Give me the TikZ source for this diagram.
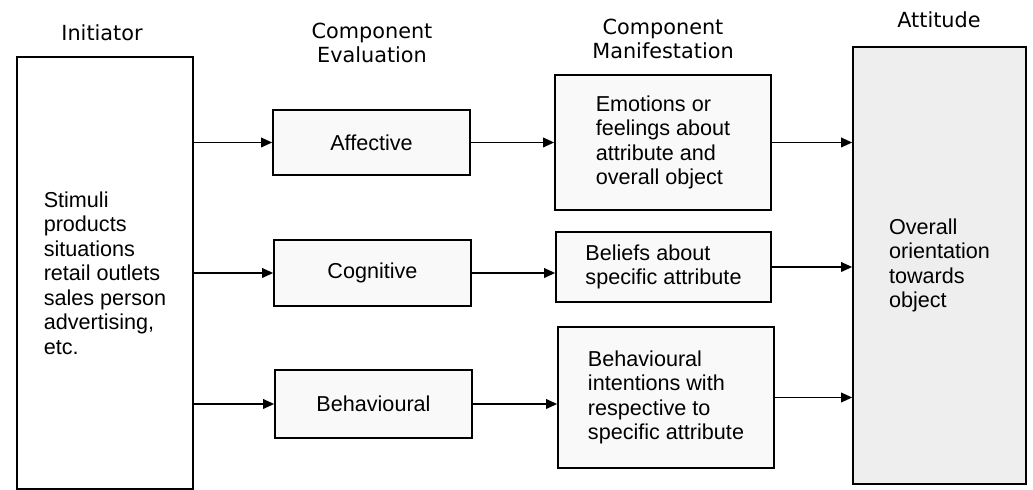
\documentclass[tikz,border=0pt]{standalone}
\usepackage{fontspec}
\setmainfont{Liberation Sans}
\newfontfamily\headfont{DejaVu Sans}
\usetikzlibrary{arrows.meta}

\begin{document}
\begin{tikzpicture}[x=0.5pt,y=-0.5pt,
    box/.style={draw,line width=0.85pt,fill=gray!5,inner sep=0pt,align=left,
      font=\fontsize{10.8}{12.25}\selectfont},
    head/.style={align=center,font=\headfont\fontsize{10.4}{12.4}\selectfont},
    arr/.style={line width=0.8pt,-{Triangle[length=5.5pt,width=4.8pt]}}]
  \useasboundingbox (0,0) rectangle (1033,490);
  % column headings
  \node[head] (hinit) at (102,33) {Initiator};
  \node[head] (heval) at (372,43) {Component\\Evaluation};
  \node[head] (hman) at (663,39) {Component\\Manifestation};
  \node[head] (hatt) at (939,20) {Attitude};
  % boxes
  \node[box,fill=white,minimum width=88pt,minimum height=216pt] (init) at (105,273)
    {Stimuli\\products\\situations\\retail outlets\\sales person\\advertising,\\etc.};
  \node[box,minimum width=98.5pt,minimum height=32.5pt] (aff) at (371.5,142.5) {Affective};
  \node[box,minimum width=98.5pt,minimum height=33pt] (cog) at (372.5,273) {Cognitive};
  \node[box,minimum width=98.5pt,minimum height=34pt] (beh) at (373.5,404) {Behavioural};
  \node[box,minimum width=108pt,minimum height=67.5pt] (emo) at (663,142.5)
    {Emotions or\\feelings about\\attribute and\\overall object};
  \node[box,minimum width=107.5pt,minimum height=35pt] (bel) at (663.5,267)
    {Beliefs about\\specific attribute};
  \node[box,minimum width=108pt,minimum height=70.5pt] (intn) at (666,397.5)
    {Behavioural\\intentions with\\respective to\\specific attribute};
  \node[box,fill=gray!13,minimum width=86.5pt,minimum height=218.5pt] (att) at (939.5,265.5)
    {Overall\\orientation\\towards\\object};
  % connectors
  \foreach \b in {aff,cog,beh}
    \draw[arr] (\b.west -| init.east) -- (\b.west);
  \foreach \a/\b in {aff/emo,cog/bel,beh/intn}
    \draw[arr] (\a.east) -- (\a.east -| \b.west);
  \foreach \a in {emo,bel,intn}
    \draw[arr] (\a.east) -- (\a.east -| att.west);
\end{tikzpicture}
\end{document}
